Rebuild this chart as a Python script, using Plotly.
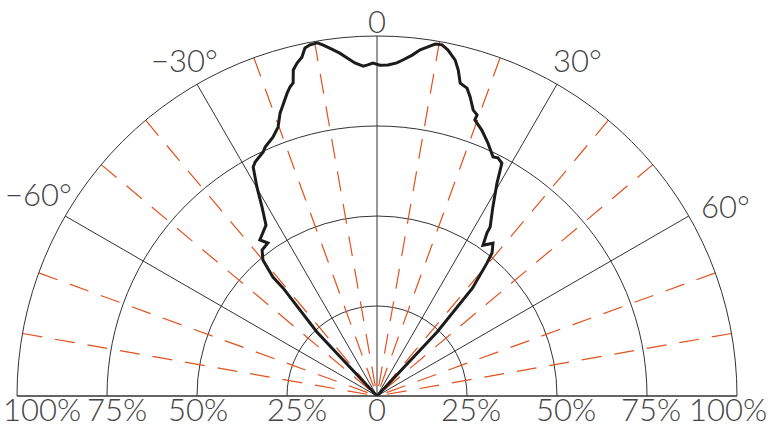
import math
import plotly.graph_objects as go

# Luminous intensity curve (relative %, angle in degrees, 0 = beam axis)
curve_theta = [-45.0, -43.2, -41.0, -41.2, -40.0, -38.2, -35.5, -36.9, -33.0, -31.3,
               -29.9, -28.4, -27.5, -25.0, -24.2, -21.9, -20.2, -18.9, -18.3, -16.5,
               -15.7, -15.0, -14.4, -13.5, -12.5, -11.7, -10.8, -9.6, -8.7, -7.2,
               -6.2, -5.1, -3.8, -2.4, -1.6, -0.7, 0.5, 1.9, 3.4, 4.4,
               5.9, 7.1, 8.2, 9.4, 10.5, 11.6, 13.1, 14.0, 14.9, 16.3,
               17.3, 18.6, 19.6, 19.5, 21.5, 23.7, 25.9, 26.9, 28.2, 29.4,
               31.5, 33.8, 34.0, 35.1, 37.2, 38.8, 39.6, 41.5, 43.2, 45.0]
curve_r = [0.0, 24.4, 39.8, 43.9, 49.3, 51.6, 52.2, 54.2, 56.6, 61.5,
           66.9, 72.3, 73.3, 74.8, 75.8, 77.5, 79.6, 83.1, 84.2, 87.8,
           89.2, 90.0, 93.5, 95.1, 96.4, 98.7, 99.3, 99.5, 98.6, 96.9,
           95.8, 94.3, 92.7, 91.7, 92.0, 92.5, 91.9, 92.0, 92.7, 93.6,
           95.2, 96.9, 97.9, 99.1, 99.2, 98.1, 95.8, 93.3, 89.9, 89.1,
           87.0, 83.8, 82.9, 81.4, 79.4, 76.7, 73.8, 74.2, 73.4, 67.9,
           61.6, 56.5, 54.6, 51.2, 53.3, 51.0, 47.9, 40.0, 24.4, 0.0]

ring_values = [25, 50, 75, 100]
solid_angles = [-90, -60, -30, 0, 30, 60, 90]
dashed_angles = [-80, -70, -50, -40, -20, -10, 10, 20, 40, 50, 70, 80]

angle_label_values = [-60, -30, 0, 30, 60]
angle_label_text = ["\u221260\u00b0", "\u221230\u00b0", "0", "30\u00b0", "60\u00b0"]

scale_label_theta = [-90, -90, -90, -90, 0, 90, 90, 90, 90]
scale_label_r = [100, 75, 50, 25, 0, 25, 50, 75, 100]
scale_label_text = ["100%", "75%", "50%", "25%", "0", "25%", "50%", "75%", "100%"]

# ---- styling / layout (not data) ----
GRID = "#333333"
ORANGE = "#e2521d"
LABEL_FONT = dict(family="Lato, 'DejaVu Sans', sans-serif", size=31, color="#444444", weight=300)
R_MAX = ring_values[-1]
W, H = 769, 430
cx, cy, R = 377, 396, 360          # pixel centre and radius of the polar area
ANG_LABEL_DIST = 385               # px from centre to angle labels
ang_label_xshift = [-5, 0, 0, 8, 15]
ang_label_yshift = [9, 3, 0, 3, -3]
scale_label_nudge = [25, 10, 1, 10, 0, 4, 9, 4, -9]

fig = go.Figure()

for a in dashed_angles:
    fig.add_trace(go.Scatterpolar(
        r=[R_MAX, 0], theta=[a, a], mode="lines",
        line=dict(color=ORANGE, width=1.2, dash="20px,13px"),
        hoverinfo="skip", showlegend=False))

fig.add_trace(go.Scatterpolar(
    r=curve_r, theta=curve_theta, mode="lines",
    line=dict(color="#1c1c1c", width=3),
    hoverinfo="skip", showlegend=False))

annotations = []
for v, t, xs, ys in zip(angle_label_values, angle_label_text, ang_label_xshift, ang_label_yshift):
    a = math.radians(v)
    px = cx + ANG_LABEL_DIST * math.sin(a)
    py = cy - ANG_LABEL_DIST * math.cos(a)
    if v == 0:
        # top label: keep its box inside the canvas
        annotations.append(dict(x=px / W, y=1, xref="paper", yref="paper",
                                text=t, showarrow=False, font=LABEL_FONT,
                                xanchor="center", yanchor="top"))
    else:
        annotations.append(dict(x=px / W, y=1 - py / H, xref="paper", yref="paper",
                                text=t, showarrow=False, font=LABEL_FONT,
                                xanchor="center", yanchor="middle", xshift=xs, yshift=ys))

for th, r, t, nud in zip(scale_label_theta, scale_label_r, scale_label_text, scale_label_nudge):
    px = cx + math.sin(math.radians(th)) * R * r / R_MAX + nud
    annotations.append(dict(x=px / W, y=0, xref="paper", yref="paper",
                            text=t, showarrow=False, font=LABEL_FONT,
                            xanchor="center", yanchor="bottom"))

fig.update_layout(
    width=W, height=H,
    margin=dict(l=0, r=0, t=0, b=0),
    paper_bgcolor="white",
    annotations=annotations,
    polar=dict(
        domain=dict(x=[(cx - R) / W, (cx + R) / W], y=[(H - cy) / H, (H - cy + R) / H]),
        sector=[0, 180],
        bgcolor="white",
        angularaxis=dict(
            rotation=90, direction="clockwise",
            tickmode="array", tickvals=solid_angles,
            showticklabels=False, ticks="",
            showgrid=True, gridcolor=GRID, gridwidth=1,
            showline=True, linecolor=GRID, linewidth=1,
        ),
        radialaxis=dict(
            range=[0, R_MAX], tickmode="array", tickvals=ring_values,
            showticklabels=False, ticks="", showline=False,
            showgrid=True, gridcolor=GRID, gridwidth=1,
        ),
    ),
)

fig.write_html("out.html", config={"displayModeBar": False},
               post_script="document.body.style.margin='0px';")
